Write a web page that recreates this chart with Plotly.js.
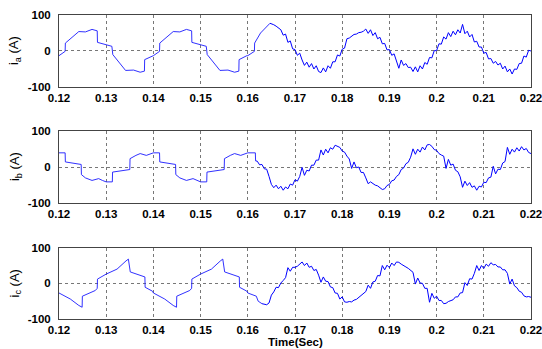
<!DOCTYPE html>
<html><head><meta charset="utf-8">
<script src="https://cdn.plot.ly/plotly-3.0.1.min.js"></script>
<style>html,body{margin:0;padding:0;background:#fff}#chart{width:542px;height:349px}</style>
</head><body><div id="chart"></div>
<script>
// ---- tick labels ----
const xTickVals = [0.12,0.13,0.14,0.15,0.16,0.17,0.18,0.19,0.20,0.21,0.22];
const xTickText = ['0.12','0.13','0.14','0.15','0.16','0.17','0.18','0.19','0.2','0.21','0.22'];
const yTickVals = [-100,0,100];
const yTickText = ['-100','0','100'];
const yLabels = ['i<sub>a</sub> (A)','i<sub>b</sub> (A)','i<sub>c</sub> (A)'];
const xLabel = 'Time(Sec)';

// ---- phase a : clean part (time, value) ----
const tA_clean = [0.1200,0.1213,0.12135,0.1242,0.1256,0.1270,0.1281,0.12815,0.1312,0.1314,0.1341,0.1358,0.1372,0.1381,0.13815,0.1398,
                  0.1400,0.1413,0.14135,0.1442,0.1456,0.1470,0.1481,0.14815,0.1512,0.1514,0.1541,0.1558,0.1572,0.1581,0.15815,0.1598,
                  0.1600,0.1614,0.16145,0.1627,0.1637,0.1647];
const iA_clean = [-13,-1,22,54,53,60,56,24,13,-10,-54,-53,-59,-56,-24,-13,
                  -13,-1,22,54,53,60,56,24,13,-10,-54,-53,-59,-56,-24,-13,
                  -13,-1,22,50,64,77];
// phase a : noisy part, one reading every 0.0005 s from 0.1650
const tA_noisyStart = 0.1650;
const iA_noisy = [76,73,69,64,59,44,47,24,28,6,
                  4,-12,-6,-25,-40,-31,-45,-35,-50,-41,
                  -57,-60,-47,-58,-41,-48,-30,-30,-11,-14,
                  5,8,34,36,42,46,47,51,52,55,
                  61,49,59,43,51,34,38,20,21,3,
                  4,-12,-8,-29,-48,-25,-40,-35,-46,-45,
                  -57,-44,-58,-41,-50,-32,-37,-18,-19,1,
                  1,20,19,39,33,51,40,55,45,59,
                  50,74,48,55,39,46,25,27,11,11,
                  -6,-4,-22,-21,-34,-29,-39,-34,-50,-42,
                  -58,-50,-64,-50,-51,-35,-34,-14,-17,2,
                  0];

// ---- phase b ----
const tB_clean = [0.1200,0.1213,0.12135,0.1247,0.12475,0.1256,0.1270,0.1284,0.1292,0.1300,0.1313,0.13135,0.1350,0.13505,0.1363,0.1372,0.1385,0.1398,
                  0.1400,0.1413,0.14135,0.1447,0.14475,0.1456,0.1470,0.1484,0.1492,0.1500,0.1513,0.15135,0.1550,0.15505,0.1563,0.1572,0.1585,0.1598,
                  0.1600,0.1616,0.16165];
const iB_clean = [39,39,14,7,-21,-30,-37,-32,-37,-41,-41,-14,-7,23,32,37,32,39,
                  39,39,14,7,-21,-30,-37,-32,-37,-41,-41,-14,-7,23,32,37,32,39,
                  39,39,17];
const tB_noisyStart = 0.1620;
const iB_noisy = [16,6,7,-5,-6,-26,-48,-57,-50,-60,
                  -53,-64,-55,-60,-47,-50,-35,-39,-26,-1,
                  -23,-9,-11,5,5,19,19,47,33,49,
                  39,53,49,60,57,54,44,41,30,22,
                  -4,14,-2,0,-15,-15,-30,-46,-41,-46,
                  -50,-52,-56,-62,-60,-51,-48,-38,-36,-26,
                  -21,-7,-3,9,13,27,50,35,49,41,
                  55,47,61,62,57,48,46,37,33,30,
                  -4,21,5,8,-9,-13,-27,-56,-39,-51,
                  -43,-56,-52,-64,-53,-55,-42,-43,-30,-28,
                  2,-19,-6,-7,11,15,54,35,49,41,
                  53,44,56,47,51,40,37];

// ---- phase c ----
const tC_clean = [0.1200,0.1224,0.1242,0.1249,0.12495,0.1277,0.1281,0.12815,0.1300,0.1323,0.1342,0.1347,0.1351,0.1375,0.1382,0.13825,0.1398,
                  0.1400,0.1424,0.1442,0.1449,0.14495,0.1477,0.1481,0.14815,0.1500,0.1523,0.1542,0.1547,0.1551,0.1575,0.1582,0.15825,0.1598,
                  0.1600,0.1612,0.1618,0.1622,0.1630];
const iC_clean = [-27,-44,-62,-67,-36,-20,-14,12,26,40,63,68,32,21,18,-11,-22,
                  -27,-44,-62,-67,-36,-20,-14,12,26,40,63,68,32,21,18,-11,-22,
                  -27,-32,-36,-50,-57];
const tC_noisyStart = 0.1640;
const iC_noisy = [-60,-55,-33,-24,-11,-12,1,8,16,44,
                  34,45,45,48,53,60,50,57,45,48,
                  36,39,23,3,18,6,5,-10,-12,-27,
                  -28,-44,-38,-52,-53,-51,-52,-47,-45,-40,
                  -35,-30,-23,-5,-14,4,6,22,21,50,
                  38,51,44,57,50,60,59,54,49,46,
                  42,37,31,-2,15,1,0,-14,-14,-53,
                  -28,-42,-36,-48,-48,-57,-56,-51,-49,-46,
                  -38,-38,-27,-26,2,-6,13,12,28,50,
                  36,50,42,54,48,58,52,53,46,46,
                  38,38,28,-2,12,-7,-12,-22,-25,-35,
                  -38,-37,-39];

const STEP = 0.0005;
function noisy(tStart, vNoisy, tClean, vClean){
  // start from the last clean reading so the two parts join
  const t = [tClean[tClean.length-1]], v = [vClean[vClean.length-1]];
  for (let i = 0; i < vNoisy.length; i++){ t.push(+(tStart + i*STEP).toFixed(5)); v.push(vNoisy[i]); }
  return {t, v};
}
const An = noisy(tA_noisyStart, iA_noisy, tA_clean, iA_clean);
const Bn = noisy(tB_noisyStart, iB_noisy, tB_clean, iB_clean);
const Cn = noisy(tC_noisyStart, iC_noisy, tC_clean, iC_clean);

const cleanLine = {color:'#1a1aff', width:0.9};
const noisyLine = {color:'#0000ff', width:1};
function tr(x, y, k, line){
  const s = k===0 ? '' : String(k+1);
  return {x:x, y:y, xaxis:'x'+s, yaxis:'y'+s, type:'scatter', mode:'lines', line:line, hoverinfo:'skip'};
}
const traces = [
  tr(tA_clean, iA_clean, 0, cleanLine), tr(An.t, An.v, 0, noisyLine),
  tr(tB_clean, iB_clean, 1, cleanLine), tr(Bn.t, Bn.v, 1, noisyLine),
  tr(tC_clean, iC_clean, 2, cleanLine), tr(Cn.t, Cn.v, 2, noisyLine)
];

const tickFont = {family:'Arial, "Liberation Sans", sans-serif', size:11.5, weight:'bold', color:'#000'};
function xAx(anchor){
  return {anchor:anchor, domain:[0,1], range:[0.12,0.22], tickmode:'array', tickvals:xTickVals, ticktext:xTickText,
    showgrid:true, gridcolor:'#777', griddash:'dot', gridwidth:1, zeroline:false, ticklabeloverflow:'allow',
    showline:true, mirror:true, linecolor:'#444', linewidth:1, ticks:'', tickfont:tickFont, ticklabelstandoff:0, fixedrange:true};
}
function yAx(anchor, dom){
  return {anchor:anchor, domain:dom, range:[-100,100], tickmode:'array', tickvals:yTickVals, ticktext:yTickText,
    showgrid:true, gridcolor:'#777', griddash:'dot', gridwidth:1, zeroline:false,
    showline:true, mirror:true, linecolor:'#444', linewidth:1, ticks:'', tickfont:tickFont, ticklabelstandoff:5, fixedrange:true};
}
const domains = [[0.7632,1],[0.3806,0.6194],[0,0.2345]];
const labFont = {family:'Arial, "Liberation Sans", sans-serif', size:13, color:'#000'};
const annotations = yLabels.map((txt,k)=>({
  text:txt, xref:'paper', yref:(k===0?'y':'y'+(k+1))+' domain', x:-0.093, y:0.5,
  xanchor:'center', yanchor:'middle', textangle:-90, showarrow:false, font:labFont
}));
annotations.push({text:xLabel, xref:'paper', yref:'paper', x:0.5, y:-0.0985, xanchor:'center', yanchor:'bottom',
  borderpad:0, showarrow:false, font:{family:'Arial, "Liberation Sans", sans-serif', size:11.5, weight:'bold', color:'#000'}});

const layout = {
  width:542, height:349, margin:{l:59, r:11, t:15, b:30},
  paper_bgcolor:'#fff', plot_bgcolor:'#fff', showlegend:false,
  xaxis:xAx('y'), xaxis2:xAx('y2'), xaxis3:xAx('y3'),
  yaxis:yAx('x', domains[0]), yaxis2:yAx('x2', domains[1]), yaxis3:yAx('x3', domains[2]),
  annotations:annotations
};
Plotly.newPlot('chart', traces, layout, {staticPlot:true, displayModeBar:false});
</script>
</body></html>
